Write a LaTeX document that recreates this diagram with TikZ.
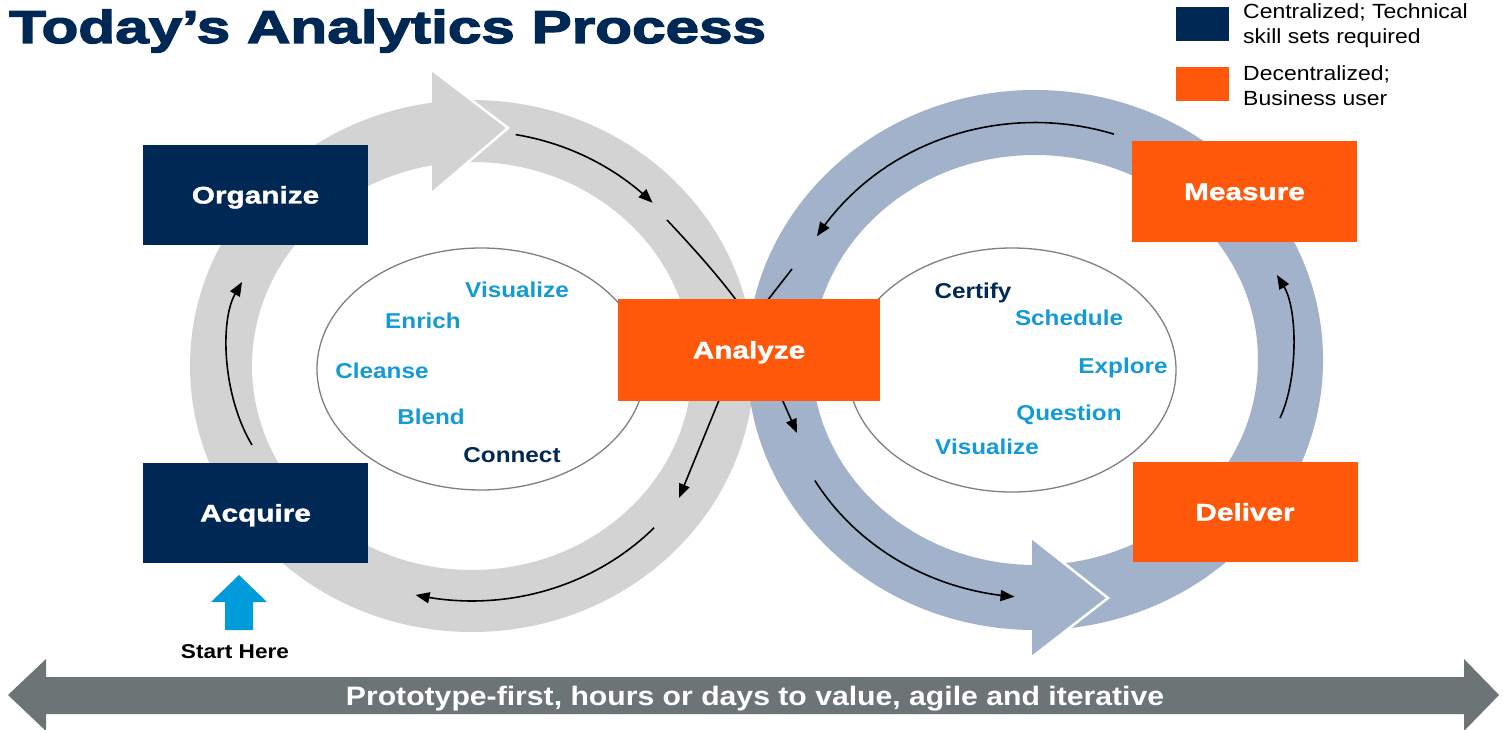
\documentclass[tikz,border=0pt]{standalone}
\usepackage{fontspec}
\setmainfont{Liberation Sans}
\newfontfamily\regfam[FakeStretch=1.12]{Liberation Sans}
\newfontfamily\boldfam[FakeStretch=1.13]{Liberation Sans}
\newfontfamily\heavyfam[FakeStretch=1.24,FakeBold=1.5]{Liberation Sans}
\newfontfamily\titlefam[FakeStretch=1.31,FakeBold=3]{Liberation Sans}
\usetikzlibrary{arrows.meta}
\definecolor{navy}{RGB}{0,40,85}
\definecolor{orng}{RGB}{255,88,10}
\definecolor{lblue}{RGB}{20,155,215}
\definecolor{ringgray}{RGB}{211,211,211}
\definecolor{ringblue}{RGB}{161,178,202}
\definecolor{bargray}{RGB}{109,116,118}
\definecolor{ellgray}{RGB}{128,128,128}
\definecolor{startblue}{RGB}{0,155,218}
\tikzset{
  procbox/.style={minimum width=225pt, minimum height=100pt, inner sep=0pt, text=white,
    font=\heavyfam\bfseries\fontsize{24}{28}\selectfont, text height=17pt, text depth=0pt},
  navybox/.style={procbox, fill=navy},
  orangebox/.style={procbox, fill=orng},
  word/.style={font=\boldfam\bfseries\fontsize{21.5}{24}\selectfont, text=lblue, inner sep=0pt,
    text height=15.5pt, text depth=0pt},
  darkword/.style={word, text=navy},
  flow/.style={line width=1.6pt, black, -{Triangle[length=14pt,width=11pt]}},
  flowline/.style={line width=1.6pt, black},
  ellline/.style={draw=ellgray, line width=1.3pt},
  notch/.style={white, line width=2.5pt, line join=miter},
  legsq/.style={minimum width=53pt, minimum height=34pt, inner sep=0pt},
  legtext/.style={font=\regfam\fontsize{20.5}{25}\selectfont, align=left, inner sep=0pt, anchor=west}
}
\begin{document}
\begin{tikzpicture}[x=1pt,y=-1pt]
\useasboundingbox (0,0) rectangle (1503,730);
\fill[white] (0,0) rectangle (1503,730);

% title
\node[anchor=base west, inner sep=0pt, text=navy,
  font=\titlefam\bfseries\fontsize{46}{50}\selectfont] (title) at (9,43) {Today’s Analytics Process};

% legend
\node[legsq, fill=navy] (lgnavy) at (1202.5,24) {};
\node[legsq, fill=orng] (lgorange) at (1202.5,84.5) {};
\node[legtext] (lgtext1) at (1243,25.5) {Centralized; Technical\\skill sets required};
\node[legtext] (lgtext2) at (1243,85.5) {Decentralized;\\Business user};

% rings
\fill[ringgray, even odd rule] (472,366) ellipse [x radius=282, y radius=266]
                               (472,366) ellipse [x radius=220, y radius=204];
\fill[ringgray] (432,70) -- (508,128) -- (432,193) -- cycle;
\draw[notch] (432,70) -- (508,128) -- (432,193);

\fill[ringblue, even odd rule] (1035,360) ellipse [x radius=288, y radius=270]
                               (1035,360) ellipse [x radius=223, y radius=205];
\fill[ringblue] (1032,538) -- (1108,598) -- (1032,657) -- cycle;
\draw[notch] (1032,538) -- (1108,598) -- (1032,657);

% inner ellipses
\draw[ellline] (481,369) ellipse [x radius=164, y radius=121];
\draw[ellline] (1012,370) ellipse [x radius=164, y radius=122];

% flow arrows, gray ring
\draw[flow] plot[domain=-80:-44, samples=30, variable=\t] ({472+251*cos(\t)},{366+235*sin(\t)});
\draw[flowline] (667,220) .. controls (697,252) and (722,280) .. (745,312);
\draw[flow] (724,388) -- (679,498);
\draw[flow] plot[domain=43.5:103, samples=40, variable=\t] ({472+251*cos(\t)},{366+235*sin(\t)});
\draw[flow] (252,445) .. controls (222,395) and (220,320) .. (242,282);

% flow arrows, blue ring
\draw[flow] plot[domain=-72:-148.6, samples=40, variable=\t] ({1035+255.5*cos(\t)},{360+237.5*sin(\t)});
\draw[flowline] (792,269) -- (760,310);
\draw[flow] (778,390) -- (797,433);
\draw[flow] plot[domain=149.5:94.6, samples=40, variable=\t] ({1035+255.5*cos(\t)},{360+237.5*sin(\t)});
\draw[flow] (1280,418) .. controls (1298,380) and (1298,310) .. (1277,275);

% process boxes
\node[navybox] (organize) at (255.5,195) {Organize};
\node[navybox] (acquire) at (255.5,513) {Acquire};
\node[orangebox, minimum width=262pt, minimum height=102pt] (analyze) at (749,350) {Analyze};
\node[orangebox] (measure) at (1244.5,191.5) {Measure};
\node[orangebox] (deliver) at (1245,512) {Deliver};

% words in left ellipse
\node[word] (lvis) at (517,290) {Visualize};
\node[word] (enrich) at (423,321) {Enrich};
\node[word] (cleanse) at (382,371) {Cleanse};
\node[word] (blend) at (431,417) {Blend};
\node[darkword] (connect) at (512,455) {Connect};

% words in right ellipse
\node[darkword] (certify) at (973,291) {Certify};
\node[word] (schedule) at (1069,318) {Schedule};
\node[word] (explore) at (1123,366) {Explore};
\node[word] (question) at (1069,413) {Question};
\node[word] (rvis) at (987,447) {Visualize};

% start here
\fill[startblue] (239,575) -- (267,602) -- (253,602) -- (253,630) -- (225,630) -- (225,602) -- (211,602) -- cycle;
\node[inner sep=0pt, font=\boldfam\bfseries\fontsize{20}{24}\selectfont, text height=14.5pt, text depth=0pt]
  (start) at (235,651) {Start Here};

% bottom double arrow
\fill[bargray] (8,695) -- (46,659) -- (46,677) -- (1464,677) -- (1464,659) -- (1499,695)
  -- (1464,731) -- (1464,714) -- (46,714) -- (46,731) -- cycle;
\node[inner sep=0pt, text=white, font=\boldfam\bfseries\fontsize{26.7}{30}\selectfont,
  text height=19pt, text depth=0pt] (bottomtext) at (755,695.5)
  {Prototype-first, hours or days to value, agile and iterative};
\end{tikzpicture}
\end{document}
